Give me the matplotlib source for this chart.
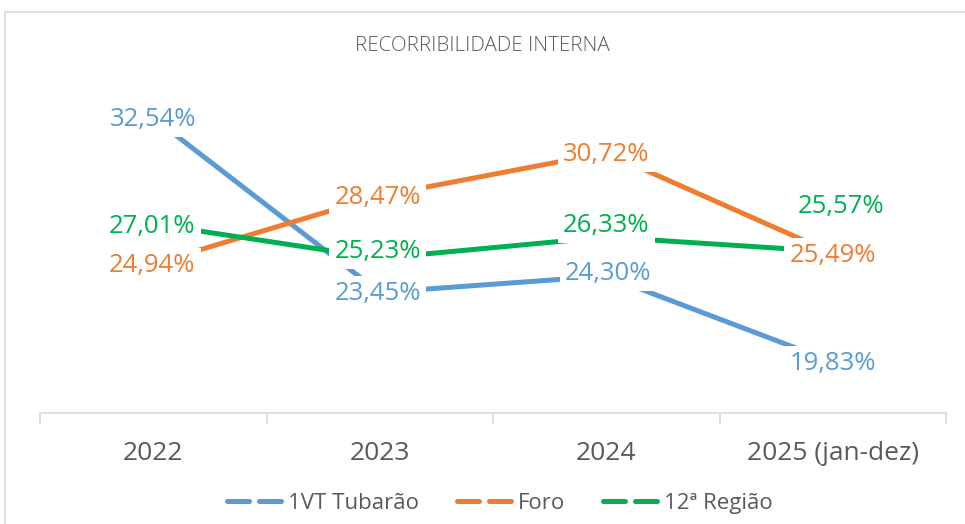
import matplotlib.pyplot as plt
from matplotlib.lines import Line2D
from matplotlib.patches import Rectangle

categories = ['2022', '2023', '2024', '2025 (jan-dez)']
series_names = ['1VT Tubarão', 'Foro', '12ª Região']
vt_tubarao = [32.54, 23.45, 24.30, 19.83]
foro = [24.94, 28.47, 30.72, 25.49]
regiao_12 = [27.01, 25.23, 26.33, 25.57]

colors = ['#5B9BD5', '#ED7D31', '#00B050']
# label offsets in pixels (x, y), as placed by hand in the original
offsets = [
    [(0, -2), (-2, -1), (2, 3), (0, -2)],
    [(-1, -2), (-2, -2), (0, -2), (0, -2)],
    [(-1, -2), (-2, 7), (0, 12), (8, 45)],
]

plt.rcParams['font.family'] = ['Open Sans', 'DejaVu Sans']

fig = plt.figure(figsize=(9.65, 5.24), dpi=100)
fig.patches.append(Rectangle((5 / 965, -0.1), 1.2, 1 - 12 / 524 + 0.1,
                             transform=fig.transFigure, fill=False,
                             edgecolor='#D9D9D9', linewidth=1.2))

ax = fig.add_axes([40 / 965, 0.2118, 906 / 965, 0.6737])
x = list(range(len(categories)))
all_series = [vt_tubarao, foro, regiao_12]

for vals, col, offs in zip(all_series, colors, offsets):
    ax.plot(x, vals, color=col, linewidth=3.6, solid_capstyle='butt', zorder=2)
    for xi, v, (dx, dy) in zip(x, vals, offs):
        ax.annotate(f'{v:.2f}%'.replace('.', ','), (xi, v),
                    xytext=(dx, dy), textcoords='offset pixels',
                    ha='center', va='center', fontsize=18.5, color=col,
                    bbox=dict(boxstyle='square,pad=0.2', fc='white', ec='none'),
                    zorder=3)

ax.set_xlim(-0.5, 3.5)
ax.set_ylim(17.17, 35.55)
ax.set_yticks([])
ax.set_xticks(x)
ax.set_xticklabels(categories, fontsize=19, color='#595959')
ax.tick_params(axis='x', length=0, pad=20)
ax.set_xticks([-0.5, 0.5, 1.5, 2.5, 3.5], minor=True)
ax.tick_params(axis='x', which='minor', length=8, color='#D9D9D9', width=1.2)
for s in ['top', 'left', 'right']:
    ax.spines[s].set_visible(False)
ax.spines['bottom'].set_color('#D9D9D9')
ax.spines['bottom'].set_linewidth(1.2)

fig.text(0.5, 0.912, 'RECORRIBILIDADE INTERNA', ha='center', va='center',
         fontsize=14.8, fontweight='light', color='#595959')

handles = [Line2D([0], [0], color=c, linewidth=3.6, linestyle=(0, (4.4, 2)),
                  dash_capstyle='round')
           for c in colors]
fig.legend(handles, series_names, loc='center', bbox_to_anchor=(0.518, 0.04),
           ncol=3, frameon=False, fontsize=16, handlelength=2.5,
           columnspacing=1.7, handletextpad=0.25, labelcolor='#595959')

fig.savefig('out.png', dpi=100)
